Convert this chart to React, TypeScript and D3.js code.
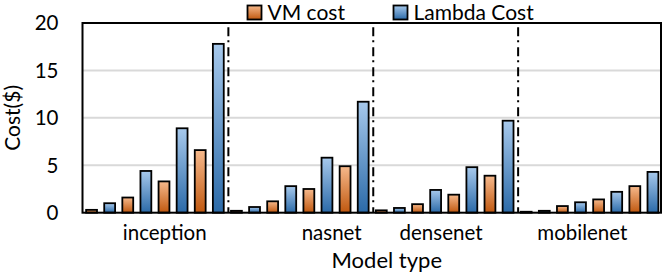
import React, { useEffect, useRef } from 'react';
import * as d3 from 'd3';

// data
const models = ['inception', 'nasnet', 'densenet', 'mobilenet'];
const runsPerModel = 4;
const vmCost = [
  0.3, 1.6, 3.3, 6.6,   // inception
  0.2, 1.2, 2.5, 4.9,   // nasnet
  0.25, 0.9, 1.9, 3.9,  // densenet
  0.1, 0.7, 1.4, 2.8,   // mobilenet
];
const lambdaCost = [
  1.0, 4.4, 8.9, 17.8,
  0.6, 2.8, 5.8, 11.7,
  0.5, 2.4, 4.8, 9.7,
  0.2, 1.1, 2.2, 4.3,
];
const seriesNames = ['VM cost', 'Lambda Cost'];
const yTicks = [0, 5, 10, 15, 20];

const W = 664;
const H = 275;
const FONT = 'Lato, "Open Sans", sans-serif';

export default function App() {
  const ref = useRef<SVGSVGElement>(null);

  useEffect(() => {
    const svg = d3.select(ref.current);
    svg.selectAll('*').remove();

    const left = 82.5, right = 662, top = 23, bottom = 212.7;

    const defs = svg.append('defs');
    const grads = [
      { id: 'gOrange', top: '#f6b98c', bot: '#c0580f' },
      { id: 'gBlue', top: '#a7c9ec', bot: '#2b6aa8' },
    ];
    grads.forEach(g => {
      const lg = defs.append('linearGradient').attr('id', g.id)
        .attr('x1', 0).attr('y1', 0).attr('x2', 0).attr('y2', 1);
      lg.append('stop').attr('offset', '0%').attr('stop-color', g.top);
      lg.append('stop').attr('offset', '100%').attr('stop-color', g.bot);
    });

    const cats = d3.range(vmCost.length);
    const x0 = d3.scaleBand<number>().domain(cats).range([left, right]).padding(0);
    const x1 = d3.scaleBand<string>().domain(seriesNames).range([0, x0.bandwidth()])
      .paddingInner(0.3).paddingOuter(0.15);
    const y = d3.scaleLinear().domain([0, 20]).range([bottom, top]);

    // gridlines
    svg.append('g').selectAll('line')
      .data(yTicks.filter(t => t > 0 && t < 20))
      .join('line')
      .attr('x1', left).attr('x2', right)
      .attr('y1', d => y(d)).attr('y2', d => y(d))
      .attr('stroke', '#d9d9d9').attr('stroke-width', 2);

    // tick labels
    svg.append('g').selectAll('text')
      .data(yTicks)
      .join('text')
      .attr('x', 58.5).attr('y', d => y(d))
      .attr('dy', '0.36em')
      .attr('text-anchor', 'end')
      .attr('font-family', FONT).attr('font-size', 20.5)
      .attr('fill', '#000')
      .text(d => d);

    // bars
    const rows = cats.map(i => ({ i, vals: [vmCost[i], lambdaCost[i]] }));
    const g = svg.append('g');
    rows.forEach(r => {
      r.vals.forEach((v, s) => {
        g.append('rect')
          .attr('x', x0(r.i)! + x1(seriesNames[s])! + 0.9)
          .attr('width', x1.bandwidth() - 1.8)
          .attr('y', y(v))
          .attr('height', Math.max(0, y(0) - y(v)))
          .attr('fill', s === 0 ? 'url(#gOrange)' : 'url(#gBlue)')
          .attr('stroke', '#000').attr('stroke-width', 1.8);
      });
    });

    // dash-dot separators between models
    const sepX = d3.range(1, models.length).map(m => x0(m * runsPerModel)! + 1);
    svg.append('g').selectAll('line')
      .data(sepX)
      .join('line')
      .attr('x1', d => d).attr('x2', d => d)
      .attr('y1', y(19.55)).attr('y2', bottom)
      .attr('stroke', '#000').attr('stroke-width', 2)
      .attr('stroke-dasharray', '9,4,2,5');

    // frame
    svg.append('rect')
      .attr('x', left).attr('y', top)
      .attr('width', 661 - left).attr('height', bottom - top)
      .attr('fill', 'none').attr('stroke', '#000').attr('stroke-width', 2);

    // category labels (Excel placed them slightly off-centre)
    const labelShift = [0.27, 0.88, -0.1, -0.2];
    svg.append('g').selectAll('text')
      .data(models)
      .join('text')
      .attr('x', (d, m) => {
        const a = x0(m * runsPerModel)!;
        const b = x0(m * runsPerModel + runsPerModel - 1)! + x0.bandwidth();
        return (a + b) / 2 + labelShift[m] * x0.bandwidth();
      })
      .attr('y', 240)
      .attr('text-anchor', 'middle')
      .attr('font-family', FONT).attr('font-size', 20.5)
      .text(d => d);

    // axis titles
    svg.append('text')
      .attr('x', (left + 661) / 2 + 15).attr('y', 267.5)
      .attr('text-anchor', 'middle')
      .attr('font-family', FONT).attr('font-size', 22)
      .text('Model type');

    svg.append('text')
      .attr('transform', `translate(20,${(top + bottom) / 2}) rotate(-90)`)
      .attr('text-anchor', 'middle')
      .attr('font-family', FONT).attr('font-size', 21)
      .text('Cost($)');

    // legend
    const legX = [247.5, 393.5];
    const leg = svg.append('g');
    seriesNames.forEach((name, s) => {
      leg.append('rect')
        .attr('x', legX[s]).attr('y', 5.5)
        .attr('width', 14).attr('height', 14)
        .attr('fill', s === 0 ? 'url(#gOrange)' : 'url(#gBlue)')
        .attr('stroke', '#000').attr('stroke-width', 1.8);
      leg.append('text')
        .attr('x', legX[s] + 20).attr('y', 19.5)
        .attr('font-family', FONT).attr('font-size', 21)
        .text(name);
    });
  }, []);

  return (
    <svg
      ref={ref}
      width={W}
      height={H}
      style={{ position: 'absolute', left: 0, top: 0, background: '#fff' }}
    />
  );
}
